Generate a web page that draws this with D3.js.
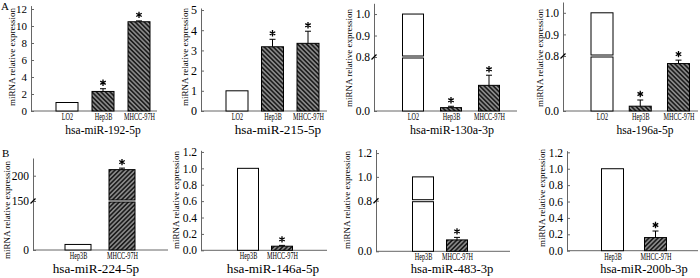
<!DOCTYPE html>
<html>
<head>
<meta charset="utf-8">
<script src="https://cdn.jsdelivr.net/npm/d3@7"></script>
<style>
  body { margin: 0; background: #fff; }
  svg { display: block; font-family: "Liberation Serif", "Times New Roman", serif; }
</style>
</head>
<body>
<div id="chart"></div>
<script>
// data (fold change vs. reference cell line)
const groupsA = ["LO2", "Hep3B", "MHCC-97H"];
const groupsB = ["Hep3B", "MHCC-97H"];
const mirA = ["hsa-miR-192-5p", "hsa-miR-215-5p", "hsa-miR-130a-3p", "hsa-196a-5p"];
const mirB = ["hsa-miR-224-5p", "hsa-miR-146a-5p", "hsa-miR-483-3p", "hsa-miR-200b-3p"];
const meanA = [[1, 2.3, 10.5], [1, 3.18, 3.35], [1, 0.05, 0.38], [1, 0.07, 0.69]];
const errA = [[0, 0.32, 0.1], [0, 0.37, 0.6], [0, 0.02, 0.15], [0, 0.09, 0.05]];
const meanB = [[17, 212], [1, 0.05], [1, 0.18], [1, 0.16]];
const errB = [[0, 3], [0, 0.01], [0, 0.04], [0, 0.08]];
const ticksA = [[0, 2, 4, 6, 8, 10, 12], [0, 1, 2, 3, 4, 5], [0, 0.8, 0.9, 1.0], [0, 0.8, 0.9, 1.0]];
const ticksB = [[0, 150, 200], [0, 0.2, 0.4, 0.6, 0.8, 1.0, 1.2], [0, 0.8, 1.0, 1.2], [0, 0.2, 0.4, 0.6, 0.8, 1.0, 1.2]];
const breakA = [null, null, 0.8, 0.8];
const breakB = [150, null, 0.8, null];

// layout of each small panel (pixels)
const layoutA = [
  { ax: 31, xEnd: 157, c: [67, 139], bw: 22, y0: 111, yb: null, yTop: 5.6, top: 12.4, fmt: "d", fs: 11, ts: 11.5, tx: 103, lx: 12, ly: 57 },
  { ax: 201, xEnd: 327, c: [237, 308], bw: 22, y0: 111, yb: null, yTop: 8, top: 5.1, fmt: "d", fs: 12, ts: 13.2, tx: 278, lx: 185, ly: 57 },
  { ax: 374, xEnd: 517, c: [413, 489], bw: 21, y0: 111, yb: 57, yTop: 3.3, top: 1.05, fmt: ".1f", fs: 11.5, ts: 12, tx: 452, lx: 349, ly: 58 },
  { ax: 563, xEnd: 698, c: [602, 678.5], bw: 22, y0: 111, yb: 56, yTop: 2, top: 1.05, fmt: ".1f", fs: 11.5, ts: 11.5, tx: 645, lx: 540, ly: 58 }
];
const layoutB = [
  { ax: 33, xEnd: 168, c: [78, 122], bw: 26, y0: 250, yb: 201, yTop: 158, top: 235, fmt: "d", fs: 11.5, ts: 13.2, tx: 96, lx: 7, ly: 210 },
  { ax: 201, xEnd: 327, c: [248, 282], bw: 21, y0: 250.3, yb: null, yTop: 150.3, top: 1.22, fmt: ".1f", fs: 11.5, ts: 13.2, tx: 273, lx: 176, ly: 200 },
  { ax: 376, xEnd: 510, c: [423, 457], bw: 21, y0: 251.3, yb: 200.7, yTop: 149.5, top: 1.23, fmt: ".1f", fs: 11.5, ts: 12.6, tx: 452, lx: 347, ly: 200 },
  { ax: 567, xEnd: 698, c: [612.5, 655.5], bw: 22, y0: 250.7, yb: null, yTop: 150.7, top: 1.22, fmt: ".1f", fs: 11.5, ts: 12.4, tx: 644, lx: 542, ly: 198 }
];

const w = 700;
const h = 278;

const svg = d3.select("#chart")
  .append("svg")
  .attr("width", w)
  .attr("height", h);

// hatch patterns: "\\\" for row A, "///" for row B
const defs = svg.append("defs");
[["hatchA", -45], ["hatchB", 45]].forEach(([id, angle]) => {
  const p = defs.append("pattern")
    .attr("id", id)
    .attr("patternUnits", "userSpaceOnUse")
    .attr("width", 3.2)
    .attr("height", 3.2)
    .attr("patternTransform", "rotate(" + angle + ")");
  p.append("rect").attr("width", 3.2).attr("height", 3.2).attr("fill", "#1e1e1e");
  p.append("line")
    .attr("x1", 1.6).attr("x2", 1.6)
    .attr("y1", 0).attr("y2", 3.2)
    .attr("stroke", "#fff")
    .attr("stroke-width", 0.75);
});

const star = d3.symbol(d3.symbolAsterisk, 28);

function drawPanel(groups, mir, means, errs, ticks, brk, lay, hatch, rowBase) {
  const g = svg.append("g");

  const x = d3.scalePoint()
    .domain(groups)
    .range(lay.c);

  const y = d3.scaleLinear()
    .domain(brk == null ? [0, lay.top] : [0, brk, lay.top])
    .range(lay.yb == null ? [lay.y0, lay.yTop] : [lay.y0, lay.yb, lay.yTop]);

  // y axis, ticks pointing inward
  const yAxis = d3.axisLeft(y)
    .tickValues(ticks)
    .tickFormat(d3.format(lay.fmt))
    .tickSize(-3)
    .tickSizeOuter(0)
    .tickPadding(4);

  g.append("g")
    .attr("transform", "translate(" + lay.ax + ",0)")
    .call(yAxis)
    .call(a => a.select(".domain").attr("stroke", "#666"))
    .call(a => a.selectAll(".tick line").attr("stroke", "#666"))
    .call(a => a.selectAll(".tick text")
      .attr("fill", "#000")
      .style("font-family", "Liberation Serif, serif")
      .style("font-size", lay.fs + "px"));

  // break mark on the axis
  if (brk != null) {
    g.append("line")
      .attr("x1", lay.ax - 2.5).attr("y1", y(brk) + 2.5)
      .attr("x2", lay.ax + 2.5).attr("y2", y(brk) - 2.5)
      .attr("stroke", "#000")
      .attr("stroke-width", 1.3);
  }

  // baseline
  g.append("line")
    .attr("x1", lay.ax).attr("x2", lay.xEnd)
    .attr("y1", y(0)).attr("y2", y(0))
    .attr("stroke", "#666");

  // bars
  means.forEach((v, i) => {
    const cx = x(groups[i]);
    const fill = i === 0 ? "#fff" : "url(#" + hatch + ")";
    const parts = (brk != null && v > brk)
      ? [[y(v), y(brk) - 1], [y(brk) + 1, y(0)]]
      : [[y(v), y(0)]];
    parts.forEach(([t, b]) => {
      g.append("rect")
        .attr("x", cx - lay.bw / 2)
        .attr("y", t)
        .attr("width", lay.bw)
        .attr("height", b - t)
        .attr("fill", fill)
        .attr("stroke", "#000")
        .attr("stroke-width", 1);
    });

    if (errs[i] > 0) {
      const ye = y(v + errs[i]);
      g.append("line")
        .attr("x1", cx).attr("x2", cx)
        .attr("y1", y(v)).attr("y2", ye)
        .attr("stroke", "#000");
      g.append("line")
        .attr("x1", cx - 3).attr("x2", cx + 3)
        .attr("y1", ye).attr("y2", ye)
        .attr("stroke", "#000");
    }
    if (i > 0) {
      g.append("path")
        .attr("d", star())
        .attr("transform", "translate(" + cx + "," + (y(v + errs[i]) - 6) + ")")
        .attr("fill", "none")
        .attr("stroke", "#000")
        .attr("stroke-width", 1.3);
    }
  });

  // category labels, squeezed horizontally like the original narrow face
  g.append("g")
    .attr("transform", "translate(0," + y(0) + ")")
    .call(d3.axisBottom(x).tickSize(0).tickPadding(2))
    .call(a => a.select(".domain").remove())
    .call(a => a.selectAll(".tick text")
      .attr("fill", "#000")
      .attr("transform", "scale(0.62,1)")
      .style("font-family", "Liberation Serif, serif")
      .style("font-size", "10px"));

  // miRNA name
  g.append("text")
    .attr("x", lay.tx)
    .attr("y", rowBase)
    .attr("text-anchor", "middle")
    .style("font-size", lay.ts + "px")
    .text(mir);

  // y label
  g.append("text")
    .attr("transform", "translate(" + lay.lx + "," + lay.ly + ") rotate(-90)")
    .attr("text-anchor", "middle")
    .attr("dy", "0.35em")
    .style("font-size", "9px")
    .text("miRNA relative expression");
}

layoutA.forEach((lay, k) => {
  drawPanel(groupsA, mirA[k], meanA[k], errA[k], ticksA[k], breakA[k], lay, "hatchA", 133.5);
});
layoutB.forEach((lay, k) => {
  drawPanel(groupsB, mirB[k], meanB[k], errB[k], ticksB[k], breakB[k], lay, "hatchB", 272.5);
});

// panel letters
svg.append("text").attr("x", 1).attr("y", 10).style("font-size", "11px").text("A");
svg.append("text").attr("x", 2).attr("y", 157).style("font-size", "11px").text("B");
</script>
</body>
</html>
